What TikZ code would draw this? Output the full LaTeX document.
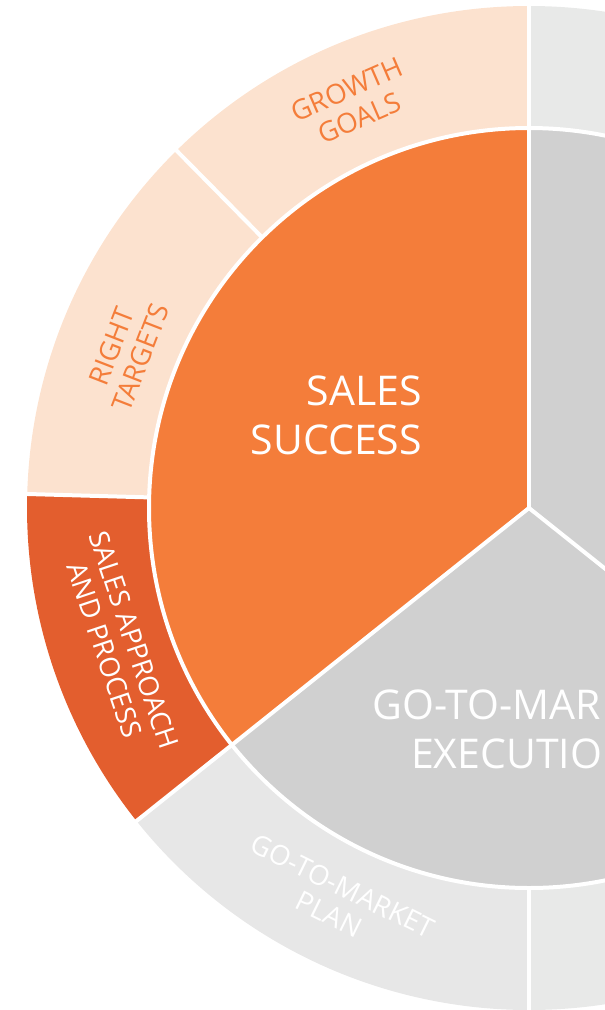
\documentclass[tikz,border=0pt]{standalone}
\usepackage{fontspec}
\setmainfont{Open Sans}
\definecolor{cOrange}{HTML}{F47D3A}
\definecolor{cPeach}{HTML}{FCE2CF}
\definecolor{cDark}{HTML}{E35E2E}
\definecolor{cLight}{HTML}{E7E7E7}
\definecolor{cTopLight}{HTML}{E8E9E8}
\definecolor{cMid}{HTML}{D0D0D0}
\tikzset{
  sep/.style={draw=white,line width=4pt},
  bigtxt/.style={text=white,font=\fontsize{41}{49}\selectfont,inner sep=0pt},
  ringtxt/.style={font=\fontsize{27.5}{31}\selectfont,inner sep=0pt,align=center},
}
\begin{document}
\begin{tikzpicture}[x=1pt,y=1pt]
\useasboundingbox (0,0) rectangle (605,-1010);
\begin{scope}[shift={(529,-508)}]
\coordinate (O) at (0,0);
% outer ring wedges
\fill[cTopLight] (O) -- (-90:502) arc[start angle=-90,end angle=90,radius=502] -- cycle;
\fill[cPeach] (O) -- (90:502) arc[start angle=90,end angle=178.4,radius=502] -- cycle;
\fill[cDark] (O) -- (178.4:502) arc[start angle=178.4,end angle=218.57,radius=502] -- cycle;
\fill[cLight] (O) -- (218.57:502) arc[start angle=218.57,end angle=270,radius=502] -- cycle;
% inner wedges
\fill[cOrange] (O) -- (90:380) arc[start angle=90,end angle=218.57,radius=380] -- cycle;
\fill[cMid] (O) -- (218.57:380) arc[start angle=218.57,end angle=450,radius=380] -- cycle;
% separators
\draw[sep] (O) circle[radius=380];
\draw[sep] (O) -- (90:503);
\draw[sep] (O) -- (218.57:503);
\draw[sep] (O) -- (321.43:380);
\draw[sep] (134.6:380) -- (134.6:503);
\draw[sep] (178.4:380) -- (178.4:503);
\draw[sep] (270:380) -- (270:503);
% ring labels
\node[ringtxt,text=cOrange,rotate=23.5] (growth) at (113.5:441) {GROWTH\\GOALS};
\node[ringtxt,text=cOrange,rotate=68.8] (right) at (158.8:432) {RIGHT\\TARGETS};
\node[ringtxt,text=white,rotate=-71.5] (approach) at (198.5:432) {SALES APPROACH\\AND PROCESS};
\node[ringtxt,text=white,rotate=-26.2] (plan) at (243.8:437) {GO-TO-MARKET\\PLAN};
\end{scope}
% main labels
\node[bigtxt,align=right,anchor=north east] (success) at (422,-376) {SALES\\SUCCESS};
\node[bigtxt,align=center,anchor=north] (exec) at (522,-690) {GO-TO-MARKET\\EXECUTION};
\end{tikzpicture}
\end{document}
